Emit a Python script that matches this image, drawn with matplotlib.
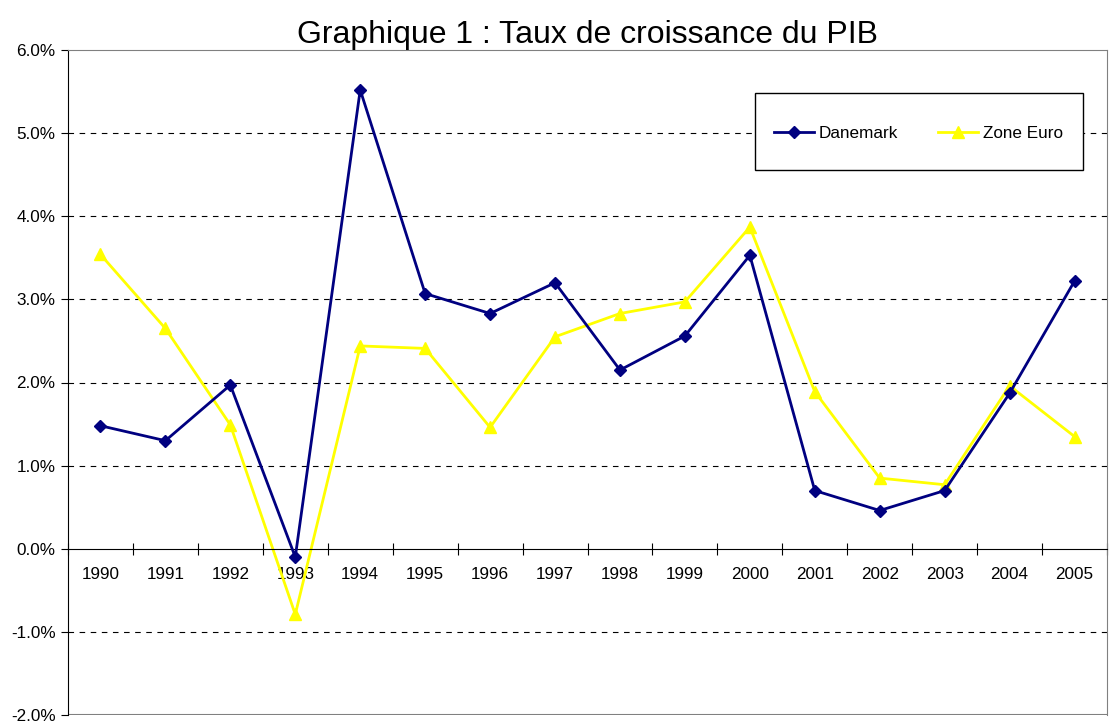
import matplotlib.pyplot as plt
from matplotlib.patches import Rectangle
import numpy as np

plt.rcParams['font.family'] = ['Liberation Sans', 'DejaVu Sans']

years = ['1990', '1991', '1992', '1993', '1994', '1995', '1996', '1997',
         '1998', '1999', '2000', '2001', '2002', '2003', '2004', '2005']
danemark = [1.48, 1.30, 1.97, -0.10, 5.52, 3.07, 2.83, 3.20,
            2.15, 2.56, 3.53, 0.70, 0.46, 0.70, 1.87, 3.22]
zone_euro = [3.54, 2.65, 1.49, -0.79, 2.44, 2.41, 1.46, 2.55,
             2.83, 2.97, 3.87, 1.89, 0.85, 0.77, 1.96, 1.35]

fs = 12.3

fig = plt.figure(figsize=(11.17, 7.22), dpi=100)
ax = fig.add_axes([68 / 1117, 7 / 722, 1039 / 1117, 665 / 722])

x = np.arange(len(years))

# dashed gridlines
for v in [-1, 1, 2, 3, 4, 5]:
    ax.axhline(v, color='black', lw=0.8, ls=(0, (5, 5)), zorder=1)

ax.plot(x, danemark, color='#000080', lw=2, marker='D', ms=6, label='Danemark', zorder=3)
ax.plot(x, zone_euro, color='#FFFF00', lw=2, marker='^', ms=9, label='Zone Euro', zorder=2)

ax.set_xlim(-0.5, len(years) - 0.5)
ax.set_ylim(-2, 6)
ax.set_yticks(range(-2, 7))
ax.set_yticklabels(['%.1f%%' % v for v in range(-2, 7)], fontsize=fs)

# category axis sits at 0
ax.spines['bottom'].set_position(('data', 0))
ax.spines['bottom'].set_color('black')
ax.spines['left'].set_color('black')
ax.spines['top'].set_color('#808080')
ax.spines['right'].set_color('#808080')
ax.axhline(-2, color='#808080', lw=1.5, zorder=0)

ax.set_xticks(np.arange(-0.5, len(years), 1.0))
ax.set_xticklabels([])
ax.set_xticks(x, minor=True)
ax.set_xticklabels(years, minor=True, fontsize=fs)
ax.tick_params(axis='x', which='major', direction='inout', length=8)
ax.tick_params(axis='x', which='minor', length=0, pad=13)
ax.tick_params(axis='y', direction='out', length=5, pad=4)

ax.set_title('Graphique 1 : Taux de croissance du PIB', fontsize=23, pad=3)

# legend box drawn separately so it can be taller than the entries
ax.add_patch(Rectangle((0.661, 0.8195), 0.316, 0.1155, transform=ax.transAxes,
                       facecolor='white', edgecolor='black', lw=1, zorder=4))
leg = ax.legend(loc='center', bbox_to_anchor=(0.8186, 0.875), ncol=2,
                frameon=False, fontsize=fs, borderpad=0, borderaxespad=0,
                columnspacing=2.35, handlelength=2.35, handletextpad=0.25)
leg.set_zorder(5)

fig.savefig('out.png', dpi=100)
